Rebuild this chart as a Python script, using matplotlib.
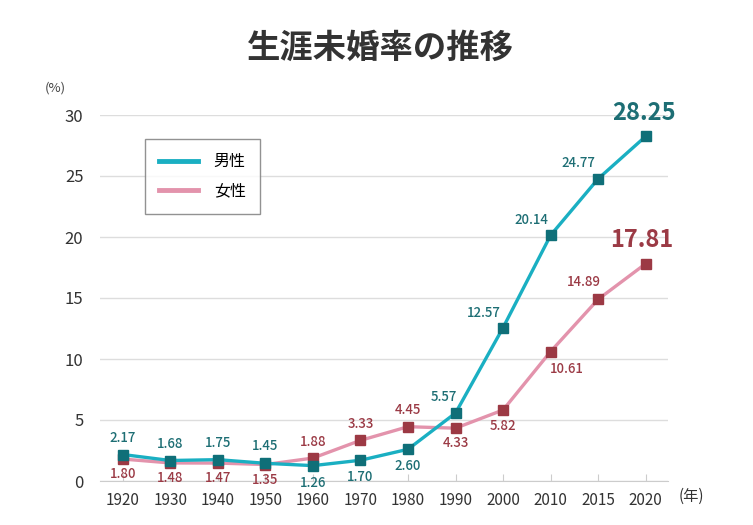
import matplotlib
matplotlib.use('Agg')
import matplotlib.pyplot as plt

plt.rcParams['font.family'] = ['Noto Sans CJK JP', 'DejaVu Sans']

years = ['1920', '1930', '1940', '1950', '1960', '1970', '1980', '1990', '2000', '2010', '2015', '2020']
male = [2.17, 1.68, 1.75, 1.45, 1.26, 1.70, 2.60, 5.57, 12.57, 20.14, 24.77, 28.25]
female = [1.80, 1.48, 1.47, 1.35, 1.88, 3.33, 4.45, 4.33, 5.82, 10.61, 14.89, 17.81]

# label offsets in pixels (dx, dy)
male_off = [(0, 17), (0, 17), (0, 17), (0, 17), (0, -17), (0, -17), (0, -17),
            (-12, 16), (-19, 15), (-19, 15), (-20, 16), (-2, 23)]
female_off = [(0, -15), (0, -15), (0, -15), (0, -15), (0, 16), (0, 16), (0, 17),
              (0, -15), (0, -16), (16, -17), (-14, 17), (-4, 24)]

male_line = '#1aafc2'
male_mark = '#0f6f78'
male_text = '#1d6e74'
female_line = '#e393ac'
female_mark = '#9c3944'
female_text = '#9b3a45'

fig = plt.figure(figsize=(7.53, 5.25), dpi=100)
ax = fig.add_axes([100/753, 1-481/525, 568/753, 366/525])

x = list(range(len(years)))
ax.plot(x, male, color=male_line, lw=2.4, marker='s', ms=7,
        mfc=male_mark, mec=male_mark, label='男性', zorder=3)
ax.plot(x, female, color=female_line, lw=2.4, marker='s', ms=7,
        mfc=female_mark, mec=female_mark, label='女性', zorder=2)

for i, v in enumerate(male):
    big = i == len(male) - 1
    ax.annotate(f'{v:.2f}', (i, v), xytext=male_off[i], textcoords='offset pixels',
                ha='center', va='center', color=male_text,
                fontsize=17 if big else 9.5, fontweight='bold' if big else 'medium')
for i, v in enumerate(female):
    big = i == len(female) - 1
    ax.annotate(f'{v:.2f}', (i, v), xytext=female_off[i], textcoords='offset pixels',
                ha='center', va='center', color=female_text,
                fontsize=17 if big else 9.5, fontweight='bold' if big else 'medium')

ax.set_xlim(-0.48, 11.47)
ax.set_ylim(0, 30)
ax.set_yticks([0, 5, 10, 15, 20, 25, 30])
ax.set_xticks(x)
ax.set_xticklabels(years)
ax.grid(axis='y', color='#dddddd', lw=1)
ax.set_axisbelow(True)
for s in ['top', 'right', 'left']:
    ax.spines[s].set_visible(False)
ax.spines['bottom'].set_color('#cccccc')
ax.tick_params(axis='y', length=0, pad=12, labelsize=12, labelcolor='#333333')
ax.tick_params(axis='x', direction='in', length=5, color='#cccccc', pad=8,
               labelsize=11, labelcolor='#333333')

leg = ax.legend(loc='upper left', bbox_to_anchor=(45/568, 1 - 24/366), frameon=True,
                fancybox=False, edgecolor='#777777', fontsize=11.5, handlelength=2.4,
                borderpad=0.9, labelspacing=0.75, handletextpad=1.0, borderaxespad=0)
for line in leg.get_lines():
    line.set_marker('')
    line.set_linewidth(3.5)
leg.get_frame().set_linewidth(1)

fig.text(55/753, 1-88/525, '(%)', ha='center', va='center', fontsize=9.5, color='#444444')
fig.text(691/753, 1-496/525, '(年)', ha='center', va='center', fontsize=11, color='#333333')
fig.text(380/753, 1-48/525, '生涯未婚率の推移', ha='center', va='center',
         fontsize=24, fontweight='bold', color='#333333')

fig.savefig('out.png', dpi=100)
